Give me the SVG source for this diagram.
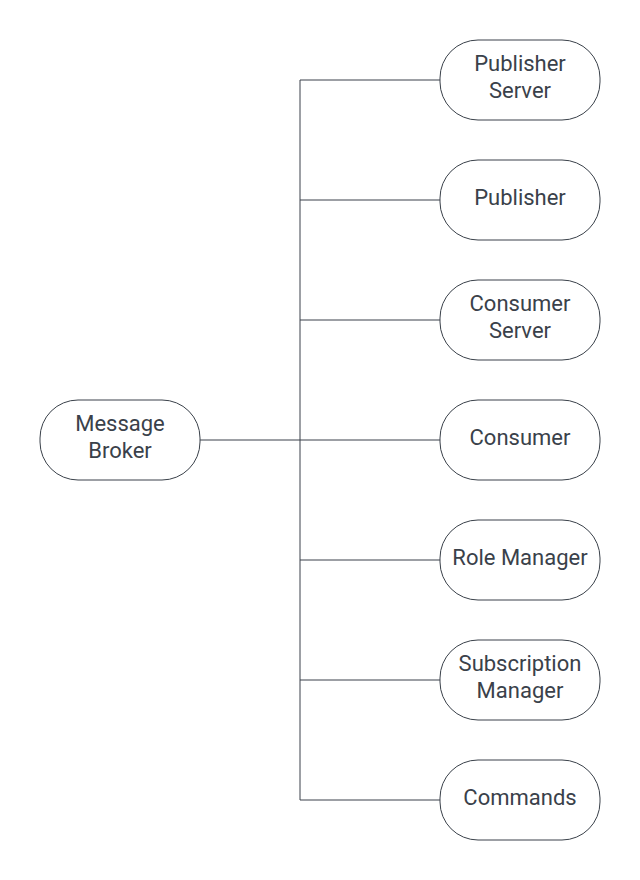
<svg xmlns="http://www.w3.org/2000/svg" width="640" height="880" viewBox="0 0 640 880">
<style>
.n rect{fill:#ffffff;stroke:#3a414a;stroke-width:1}
.n text{font-family:Roboto,"Liberation Sans",sans-serif;font-size:22px;fill:#3a414a;text-anchor:middle}
.c{fill:none;stroke:#3a414a;stroke-width:1}
</style>
<rect width="640" height="880" fill="#ffffff"/>
<g id="connectors">
<path class="c" d="M200 440H300M300 80V800M300 80H440M300 200H440M300 320H440M300 440H440M300 560H440M300 680H440M300 800H440"/>
</g>
<g id="message-broker" class="n"><rect x="40" y="400" width="160" height="80" rx="38"/><text x="120" y="431">Message</text><text x="120" y="458">Broker</text></g>
<g id="publisher-server" class="n"><rect x="440" y="40" width="160" height="80" rx="38"/><text x="520" y="71">Publisher</text><text x="520" y="98">Server</text></g>
<g id="publisher" class="n"><rect x="440" y="160" width="160" height="80" rx="38"/><text x="520" y="205">Publisher</text></g>
<g id="consumer-server" class="n"><rect x="440" y="280" width="160" height="80" rx="38"/><text x="520" y="311">Consumer</text><text x="520" y="338">Server</text></g>
<g id="consumer" class="n"><rect x="440" y="400" width="160" height="80" rx="38"/><text x="520" y="445">Consumer</text></g>
<g id="role-manager" class="n"><rect x="440" y="520" width="160" height="80" rx="38"/><text x="520" y="565">Role Manager</text></g>
<g id="subscription-manager" class="n"><rect x="440" y="640" width="160" height="80" rx="38"/><text x="520" y="671">Subscription</text><text x="520" y="698">Manager</text></g>
<g id="commands" class="n"><rect x="440" y="760" width="160" height="80" rx="38"/><text x="520" y="805">Commands</text></g>
</svg>
